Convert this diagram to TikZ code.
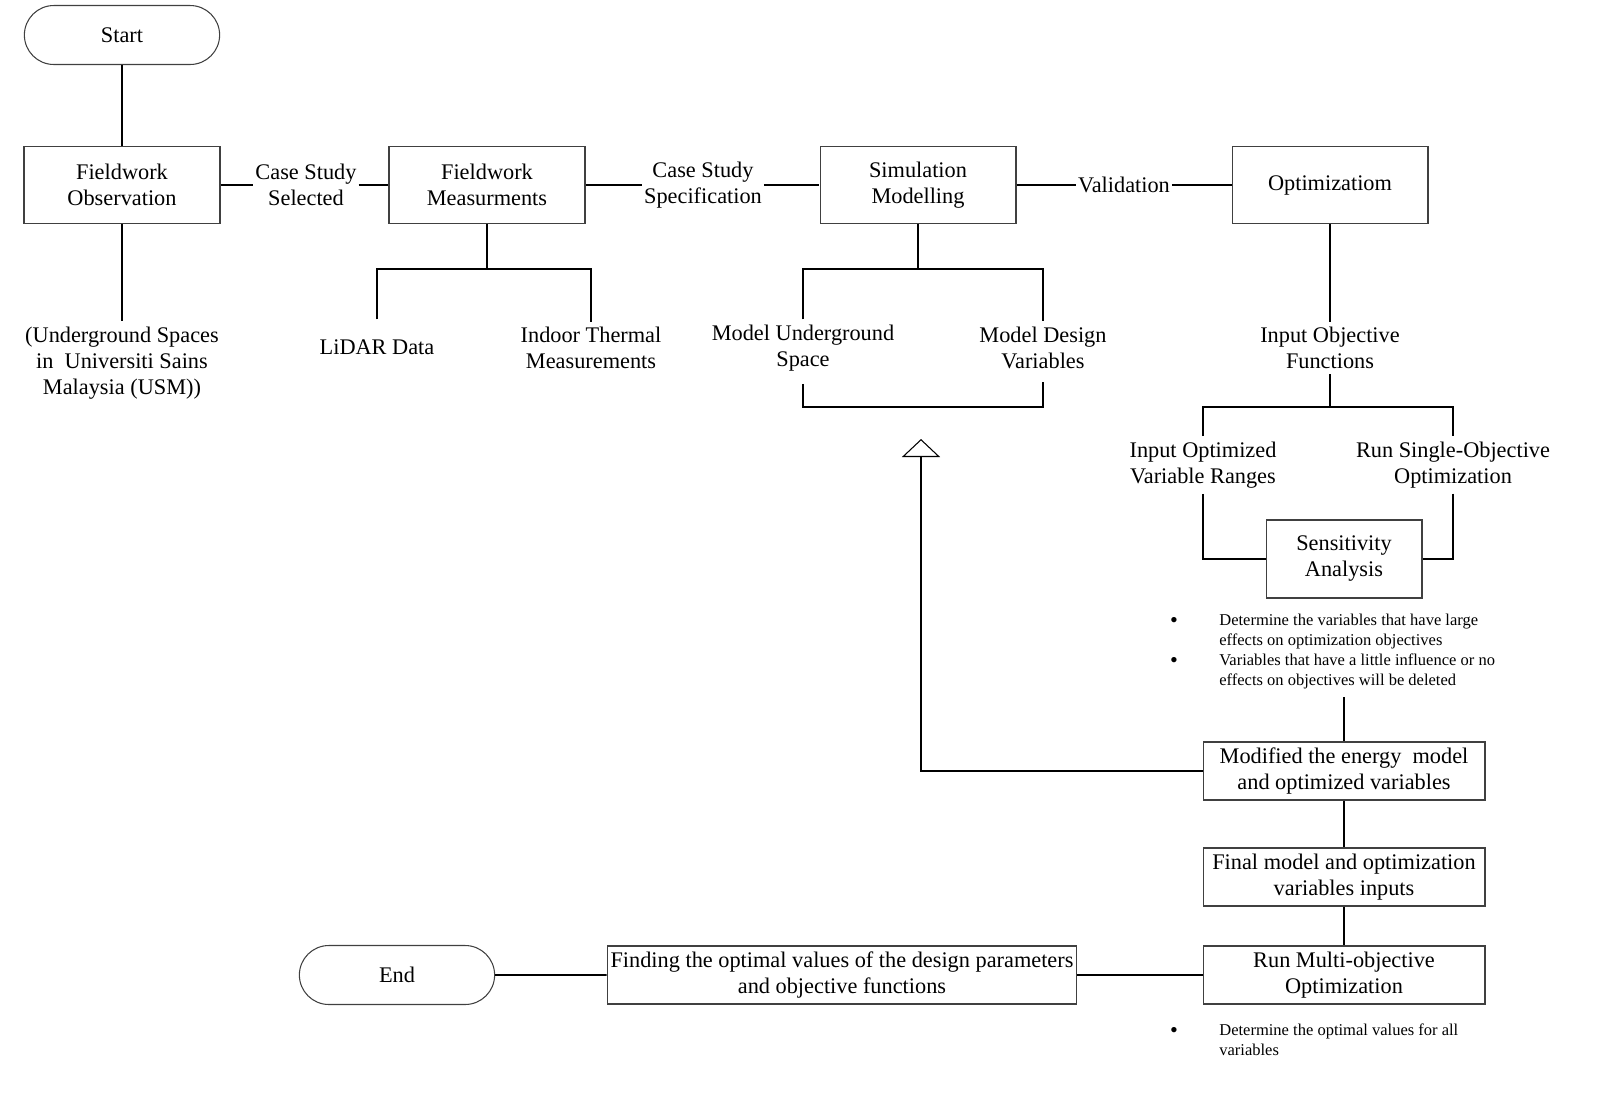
\documentclass[tikz,border=0pt]{standalone}
\usepackage{fontspec}
\setmainfont{Liberation Serif}
\usetikzlibrary{arrows.meta,shapes.misc,positioning}

\begin{document}
\begin{tikzpicture}[x=0.02cm,y=-0.02cm,
	font=\fontsize{12.7}{14.8}\selectfont,
	box/.style={draw=black!75,line width=0.6pt,minimum width=3.92cm,minimum height=1.54cm,align=center,inner sep=2pt},
	wbox/.style={box,minimum width=5.64cm,minimum height=1.16cm},
	term/.style={draw=black!75,line width=0.6pt,rounded rectangle,minimum width=4.14cm,minimum height=1.18cm},
	txt/.style={align=center,inner sep=3pt},
	lbl/.style={align=center,inner sep=1pt},
	note/.style={align=left,anchor=north west,inner sep=0pt,font=\fontsize{9.4}{11.3}\selectfont},
	dot/.style={inner sep=0pt},
	link/.style={line width=1.1pt}]
	\useasboundingbox (0,0) rectangle (1600,1093);

	% top row
	\node[term] (start) at (122,35) {Start};
	\node[box] (obs) at (122,185) {Fieldwork\\Observation};
	\node[box] (meas) at (487,185) {Fieldwork\\Measurments};
	\node[box] (sim) at (918,185) {Simulation\\Modelling};
	\node[box] (opt) at (1330,185) {Optimizatiom};
	\node[lbl] (sel) at (306,185) {Case Study\\Selected};
	\node[lbl] (spec) at (703,185) {Case Study\\Specification};
	\node[lbl] (val) at (1124,185) {Validation};

	% second row
	\node[txt] (usm) at (122,363) {(Underground Spaces\\in~ Universiti Sains\\Malaysia (USM))};
	\node[txt] (lidar) at (377,347) {LiDAR Data};
	\node[txt] (indoor) at (591,348) {Indoor Thermal\\Measurements};
	\node[txt] (mus) at (803,348) {Model Underground\\Space};
	\node[txt] (mdv) at (1043,348) {Model Design\\Variables};
	\node[txt] (iof) at (1330,348) {Input Objective\\Functions};
	\node[txt] (iovr) at (1203,465) {Input Optimized\\Variable Ranges};
	\node[txt] (rso) at (1453,465) {Run Single-Objective\\Optimization};
	\node[box,minimum width=3.12cm,minimum height=1.56cm] (sens) at (1344,559) {Sensitivity\\Analysis};

	% notes
	\node[dot] (d1) at (1174,622) {\textbullet};
	\node[dot] (d2) at (1174,662) {\textbullet};
	\node[note] (sanote) at (1219,614) {Determine the variables that have large\\effects on optimization objectives\\Variables that have a little influence or no\\effects on objectives will be deleted};

	% lower column
	\node[wbox] (mod) at (1344,771) {Modified the energy~ model\\and optimized variables};
	\node[wbox] (fin) at (1344,877) {Final model and optimization\\variables inputs};
	\node[wbox] (multi) at (1344,975) {Run Multi-objective\\Optimization};
	\node[box,minimum width=9.38cm,minimum height=1.16cm] (find) at (842,975) {Finding the optimal values of the design parameters\\and objective functions};
	\node[term] (end) at (397,975) {End};
	\node[dot] (d3) at (1174,1032) {\textbullet};
	\node[note] (mnote) at (1219,1024) {Determine the optimal values for all\\variables};

	\coordinate (mj) at (487,269);
	\coordinate (sj) at (918,269);
	\coordinate (mb) at (918,407);
	\coordinate (ij) at (1330,407);
	\coordinate (nb) at (1344,697);
	\coordinate (back) at (921,439);

	% connectors
	\draw[link] (start) -- (obs);
	\draw[link] (obs) -- (usm);
	\draw[link] (obs) -- (sel) -- (meas) -- (spec) -- (sim) -- (val) -- (opt);
	\draw[link] (meas) -- (mj);
	\draw[link] (lidar.north |- mus.north) |- (mj) -| (indoor.north);
	\draw[link] (sim) -- (sj);
	\draw[link] (mus.north) |- (sj) -| (mdv.north);
	\draw[link] ([yshift=-4pt]mus.south) |- (mb) -| ([yshift=-4pt]mdv.south);
	\draw[link] (opt) -- (iof);
	\draw[link] (iof) -- (ij);
	\draw[link] (iovr.north) |- (ij) -| (rso.north);
	\draw[link] (iovr.south) |- (sens.west);
	\draw[link] (rso.south) |- (sens.east);
	\draw[link] (nb) -- (mod);
	\draw[link,-{Triangle[open,width=0.76cm,length=0.36cm,line width=0.6pt]}] (mod.west) -| (back);
	\draw[link] (mod) -- (fin);
	\draw[link] (fin) -- (multi);
	\draw[link] (multi) -- (find);
	\draw[link] (find) -- (end);
\end{tikzpicture}
\end{document}
